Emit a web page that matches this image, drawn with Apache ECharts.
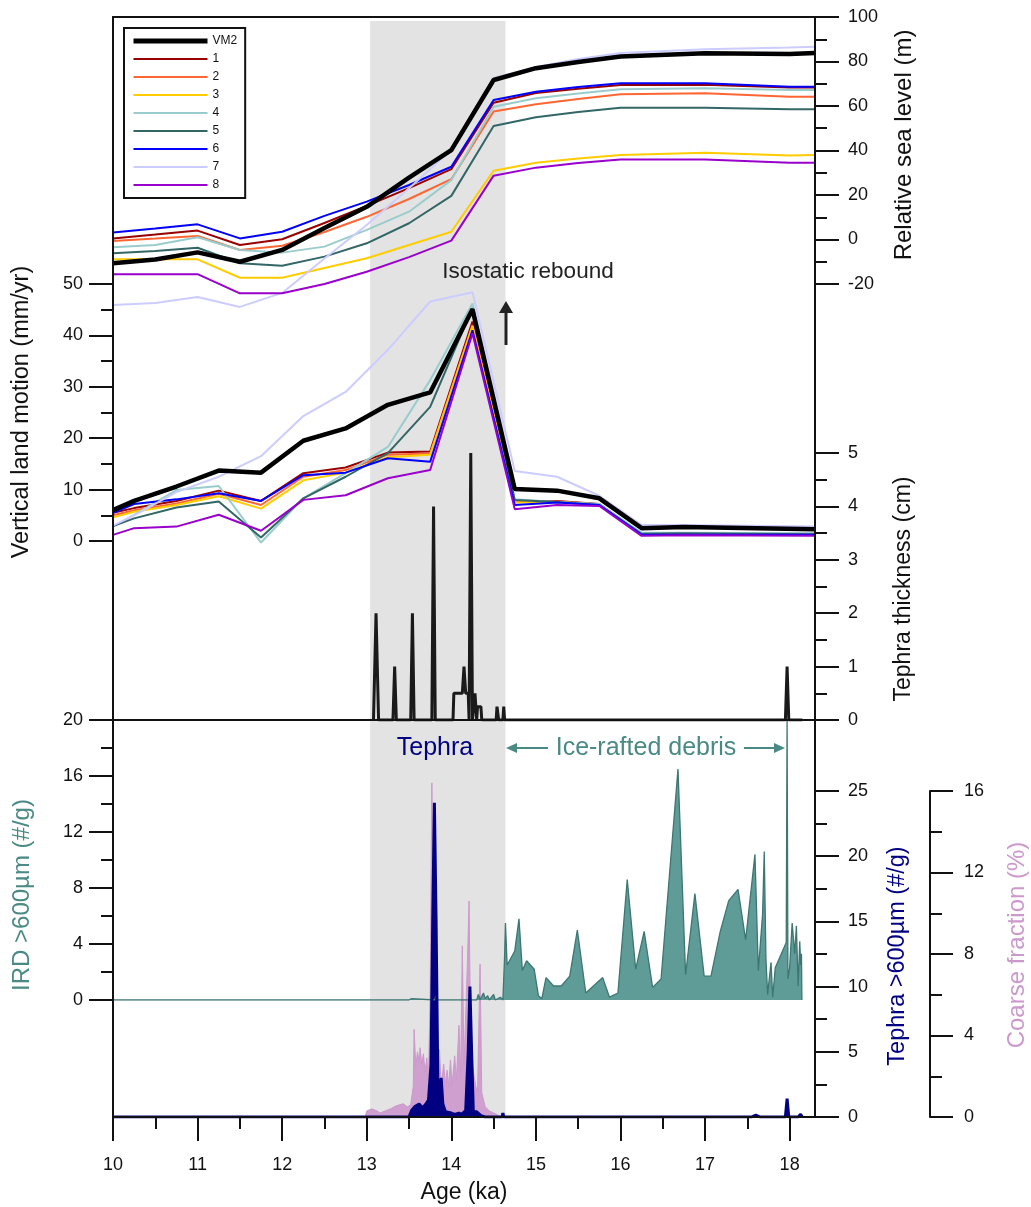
<!DOCTYPE html>
<html><head><meta charset="utf-8">
<script src="https://cdn.jsdelivr.net/npm/echarts@6/dist/echarts.min.js"></script>
<style>html,body{margin:0;padding:0;background:#fff}#c{width:1031px;height:1207px}</style>
</head><body><div id="c"></div>
<script>
// ---------------- DATA ----------------
const MODEL_NAMES = ['VM2','1','2','3','4','5','6','7','8'];

// Relative sea level (m)
const SL_AGES = [10, 10.5, 11, 11.5, 12, 12.5, 13, 13.5, 14, 14.5, 15, 15.5, 16, 17, 18, 18.3];
const SL_VM2 = [-10.7, -9.0, -5.8, -10.0, -4.7, 5.2, 14.7, 27.8, 40.2, 71.7, 77.0, 79.8, 82.2, 83.7, 83.4, 83.8];
const SL_1 = [0.5, 2.2, 4.0, -2.5, 0.1, 7.4, 15.1, 23.1, 31.6, 61.5, 65.8, 67.8, 69.4, 69.6, 68.3, 68.3];
const SL_2 = [-0.7, 0.4, 1.6, -4.7, -2.8, 3.4, 10.2, 18.2, 27.1, 57.5, 60.8, 63.1, 65.3, 65.7, 64.2, 64.2];
const SL_3 = [-8.9, -8.9, -8.9, -17.2, -17.2, -12.8, -8.4, -2.5, 3.5, 30.9, 34.5, 36.4, 38.0, 39.0, 37.7, 38.0];
const SL_4 = [-3.5, -2.5, 1.0, -4.7, -5.9, -3.2, 4.3, 12.5, 26.7, 59.7, 63.5, 65.6, 67.5, 68.0, 67.2, 67.2];
const SL_5 = [-6.2, -5.2, -3.7, -10.7, -11.8, -7.7, -1.7, 7.3, 19.6, 51.0, 54.9, 57.3, 59.2, 59.2, 58.5, 58.5];
const SL_6 = [3.1, 4.9, 6.8, 0.5, 3.5, 10.6, 17.0, 24.5, 32.7, 62.7, 66.4, 68.5, 70.2, 70.2, 68.7, 68.7];
const SL_7 = [-29.4, -28.5, -25.8, -30.3, -24.0, -8.5, 6.5, 23.0, 40.2, 72.6, 77.5, 81.1, 83.8, 85.5, 86.3, 86.6];
const SL_8 = [-15.6, -15.6, -15.6, -24.2, -24.2, -20.0, -14.5, -7.9, -0.5, 28.7, 32.3, 34.4, 36.0, 36.0, 34.5, 34.5];

// Vertical land motion (mm/yr)
const VLM_AGES = [10, 10.25, 10.75, 11.25, 11.75, 12.25, 12.75, 13.25, 13.75, 14.25, 14.75, 15.25, 15.75, 16.25, 16.75, 18.3];
const VLM_VM2 = [6.0, 7.8, 10.6, 13.7, 13.3, 19.5, 21.9, 26.5, 28.9, 45.1, 10.1, 9.8, 8.3, 2.5, 2.7, 2.3];
const VLM_1 = [5.5, 6.4, 7.8, 9.8, 7.8, 13.2, 14.3, 17.2, 17.4, 42.7, 7.7, 7.8, 7.2, 1.4, 1.4, 1.4];
const VLM_2 = [5.0, 6.0, 7.3, 9.2, 7.0, 12.5, 13.8, 16.8, 17.0, 42.0, 7.6, 7.7, 7.1, 1.3, 1.3, 1.3];
const VLM_3 = [4.6, 5.7, 7.0, 8.7, 6.3, 11.8, 13.3, 16.3, 16.8, 41.8, 7.5, 7.6, 7.0, 1.3, 1.3, 1.3];
const VLM_4 = [2.8, 5.1, 9.9, 10.7, -0.3, 8.3, 13.2, 18.3, 31.3, 46.2, 8.1, 7.6, 7.2, 1.6, 1.6, 1.5];
const VLM_5 = [2.9, 4.4, 6.5, 7.7, 0.7, 8.3, 12.5, 17.1, 26.1, 45.3, 8.0, 7.6, 7.0, 1.4, 1.5, 1.3];
const VLM_6 = [5.5, 7.2, 8.1, 9.3, 7.8, 12.8, 13.3, 16.1, 15.4, 41.0, 7.0, 7.5, 7.0, 1.2, 1.2, 1.2];
const VLM_7 = [3.0, 5.0, 9.5, 12.5, 16.5, 24.3, 29.0, 37.2, 46.6, 48.4, 13.6, 12.5, 8.8, 3.1, 3.1, 2.8];
const VLM_8 = [1.2, 2.5, 2.8, 5.1, 2.0, 8.0, 8.9, 12.2, 13.8, 40.4, 6.2, 7.0, 6.8, 1.0, 1.1, 1.0];

// Tephra thickness (cm): [age, cm]
const TEPHRA_CM = [[13.08,0],[13.11,2.0],[13.14,0],[13.31,0],[13.33,1.0],[13.35,0],[13.52,0],[13.54,2.0],[13.56,0],
  [13.77,0],[13.79,4.0],[13.81,0],[14.02,0],[14.03,0.5],[14.13,0.5],[14.15,1.0],[14.17,0.5],[14.20,0.5],[14.21,0],
  [14.23,5.0],[14.25,0],[14.27,0],[14.28,0.5],[14.30,0],[14.31,0.25],[14.35,0.25],[14.36,0],[14.53,0],[14.54,0.25],
  [14.56,0],[14.61,0],[14.62,0.25],[14.63,0],[17.95,0],[17.97,1.0],[17.99,0],[18.15,0]];

// IRD >600 µm (#/g): [age, value]
const IRD = [[10,0],[13.50,0],[13.53,0.1],[13.55,0],[13.80,0],[13.82,0.3],[13.84,0],[14.30,0],[14.32,0.4],[14.34,0],
  [14.38,0.5],[14.40,0.1],[14.43,0.3],[14.45,0],[14.50,0.4],[14.52,0],[14.58,0.2],[14.61,0],[14.63,3.1],[14.64,5.5],
  [14.66,2.5],[14.75,3.5],[14.80,5.8],[14.84,2.1],[14.89,2.8],[14.98,2.2],[15.03,0.3],[15.07,0.1],[15.12,1.6],
  [15.21,1.0],[15.30,1.0],[15.40,1.7],[15.49,5.0],[15.59,0.5],[15.79,1.6],[15.87,0.2],[15.97,0.5],[16.08,8.6],
  [16.18,2.2],[16.28,4.9],[16.38,0.9],[16.48,1.5],[16.68,16.5],[16.77,1.8],[16.88,7.6],[16.99,1.7],[17.07,1.7],
  [17.18,4.9],[17.28,7.1],[17.39,7.9],[17.48,4.3],[17.59,10.4],[17.63,2.1],[17.68,6.1],[17.70,10.6],[17.72,2.9],
  [17.74,0.4],[17.78,2.7],[17.80,0.2],[17.83,2.3],[17.96,4.1],[17.97,20],[17.98,1.5],[18.00,2.3],[18.03,5.5],
  [18.06,3.3],[18.08,5.3],[18.10,1.0],[18.12,4.2],[18.13,2.5],[18.14,3.3],[18.145,0]];

// Tephra >600 µm (#/g): [age, value]
const TEPHRA600 = [[10,0],[13.50,0],[13.53,0.5],[13.57,0.8],[13.62,1.0],[13.66,0.7],[13.70,1.0],[13.73,1.3],[13.76,4],
  [13.78,15],[13.80,24.1],[13.82,15],[13.84,3],[13.86,1.5],[13.88,3.0],[13.90,1.0],[13.93,0.4],[14.00,0.3],[14.04,0.2],
  [14.09,0.3],[14.12,0.2],[14.17,0.5],[14.20,5],[14.22,10.0],[14.24,5],[14.26,0.4],[14.30,0.4],[14.35,0.1],[14.40,0],
  [14.60,0],[14.61,0.3],[14.62,0],[17.55,0],[17.60,0.15],[17.65,0],[17.95,0],[17.97,1.4],[17.99,0],[18.10,0],
  [18.13,0.2],[18.15,0]];

// Coarse fraction (%): [age, value]
const COARSE = [[12.98,0],[13.0,0.3],[13.06,0.4],[13.12,0.3],[13.16,0.2],[13.22,0.3],[13.28,0.4],[13.35,0.55],[13.43,0.65],
  [13.48,0.5],[13.52,0.6],[13.55,1.5],[13.56,4.3],[13.58,2.5],[13.60,3.2],[13.62,2.7],[13.63,3.4],[13.65,2.6],[13.67,3.1],
  [13.69,2.2],[13.71,2.9],[13.73,1.8],[13.75,6],[13.77,16.4],[13.79,10],[13.81,3.5],[13.84,2.5],[13.86,3.3],[13.88,1.5],
  [13.91,2.6],[13.93,1.6],[13.95,2.3],[13.97,1.5],[13.99,2.8],[14.01,1.6],[14.04,3.0],[14.06,1.8],[14.09,4.5],[14.11,2.0],
  [14.13,8.4],[14.15,2.5],[14.17,5],[14.19,7.5],[14.21,10.6],[14.23,3],[14.25,2.5],[14.27,2],[14.29,1.5],[14.31,1.2],
  [14.34,7.5],[14.36,1.2],[14.40,0.5],[14.45,0.3],[14.50,0.2],[14.55,0.1],[14.58,0]];

// Shaded interval (ka)
const BAND = [13.04, 14.64];

// Tick values
const X_TICKS = [10, 11, 12, 13, 14, 15, 16, 17, 18];
const X_MINOR = [10.5, 11.5, 12.5, 13.5, 14.5, 15.5, 16.5, 17.5];
const SL_TICKS = [-20, 0, 20, 40, 60, 80, 100];
const SL_MINOR = [-10, 10, 30, 50, 70, 90];
const VLM_TICKS = [0, 10, 20, 30, 40, 50];
const VLM_MINOR = [5, 15, 25, 35, 45];
const TCM_TICKS = [0, 1, 2, 3, 4, 5];
const TCM_MINOR = [0.5, 1.5, 2.5, 3.5, 4.5];
const IRD_TICKS = [0, 4, 8, 12, 16, 20];
const IRD_MINOR = [2, 6, 10, 14, 18];
const T600_TICKS = [0, 5, 10, 15, 20, 25];
const T600_MINOR = [2.5, 7.5, 12.5, 17.5, 22.5];
const CF_TICKS = [0, 4, 8, 12, 16];
const CF_MINOR = [2, 6, 10, 14];

// ---------------- STYLE ----------------
const FONT = 'Liberation Sans, Arial, sans-serif';
const COLORS = ['#000000','#990000','#ff6633','#ffcc00','#99cccc','#336666','#0000ff','#ccccff','#9900cc'];
const SL_SETS = [SL_VM2, SL_1, SL_2, SL_3, SL_4, SL_5, SL_6, SL_7, SL_8];
const VLM_SETS = [VLM_VM2, VLM_1, VLM_2, VLM_3, VLM_4, VLM_5, VLM_6, VLM_7, VLM_8];
const zip = (xs, ys) => xs.map((x, i) => [x, ys[i]]);

const XMIN = 10, XMAX = 18.3;
const TICK_FS = 18;
const grid = (top, height) => ({left: 113, right: 216, top: top, height: height});
const grids = [grid(17, 1100), grid(17, 311.5), grid(284, 282.7), grid(453, 267), grid(720, 280), grid(791, 326)];

const AX = {color: '#111', width: 2};
function hiddenX(g) {
  return {gridIndex: g, type: 'value', min: XMIN, max: XMAX, show: false};
}
function tickAxis(g, pos, min, max, ticks, len, labels, margin, offset) {
  return {
    gridIndex: g, type: 'value', position: pos, min: min, max: max, offset: offset || 0,
    axisLine: {show: false}, splitLine: {show: false},
    axisTick: {show: true, customValues: ticks, length: len, lineStyle: AX},
    axisLabel: labels ? {show: true, customValues: ticks, margin: margin, fontSize: TICK_FS, color: '#111', fontFamily: FONT} : {show: false},
    z: 5
  };
}

const xAxes = [
  {gridIndex: 0, type: 'value', min: XMIN, max: XMAX, position: 'top', axisLine: {show: true, lineStyle: AX},
   axisTick: {show: false}, axisLabel: {show: false}, splitLine: {show: false}, z: 5},
  hiddenX(1), hiddenX(2),
  {gridIndex: 3, type: 'value', min: XMIN, max: XMAX, position: 'bottom', axisLine: {show: true, onZero: false, lineStyle: AX},
   axisTick: {show: false}, axisLabel: {show: false}, splitLine: {show: false}, z: 5},
  hiddenX(4),
  {gridIndex: 5, type: 'value', min: XMIN, max: XMAX, position: 'bottom',
   axisLine: {show: true, onZero: false, lineStyle: AX}, splitLine: {show: false},
   axisTick: {show: true, customValues: X_TICKS, length: 24, lineStyle: AX},
   axisLabel: {show: true, customValues: X_TICKS, margin: 39, fontSize: TICK_FS, color: '#111', fontFamily: FONT},
   name: 'Age (ka)', nameLocation: 'middle', nameGap: 64,
   nameTextStyle: {fontSize: 23, color: '#111', fontFamily: FONT}, z: 5},
  {gridIndex: 5, type: 'value', min: XMIN, max: XMAX, position: 'bottom',
   axisLine: {show: false}, splitLine: {show: false},
   axisTick: {show: true, customValues: X_MINOR, length: 12, lineStyle: AX},
   axisLabel: {show: false}, z: 5}
];

const yAxes = [
  {gridIndex: 0, type: 'value', min: 0, max: 1100, inverse: true, position: 'left',
   axisLine: {show: true, lineStyle: AX}, axisTick: {show: false}, axisLabel: {show: false}, splitLine: {show: false}, z: 5},
  {gridIndex: 0, type: 'value', min: 0, max: 1100, inverse: true, position: 'right',
   axisLine: {show: true, lineStyle: AX}, axisTick: {show: false}, axisLabel: {show: false}, splitLine: {show: false}, z: 5},
  tickAxis(1, 'right', -40, 100, SL_TICKS, 24, true, 33),
  tickAxis(1, 'right', -40, 100, SL_MINOR, 12, false),
  tickAxis(2, 'left', -5, 50, VLM_TICKS, 24, true, 30),
  tickAxis(2, 'left', -5, 50, VLM_MINOR, 12, false),
  tickAxis(3, 'right', 0, 5, TCM_TICKS, 24, true, 33),
  tickAxis(3, 'right', 0, 5, TCM_MINOR, 12, false),
  tickAxis(4, 'left', 0, 20, IRD_TICKS, 24, true, 30),
  tickAxis(4, 'left', 0, 20, IRD_MINOR, 12, false),
  tickAxis(5, 'right', 0, 25, T600_TICKS, 24, true, 33),
  tickAxis(5, 'right', 0, 25, T600_MINOR, 12, false),
  Object.assign(tickAxis(5, 'right', 0, 16, CF_TICKS, 23, true, 34, 115), {axisLine: {show: true, lineStyle: AX}}),
  tickAxis(5, 'right', 0, 16, CF_MINOR, 12, false, 0, 115)
];

const series = [];
series.push({
  type: 'scatter', xAxisIndex: 0, yAxisIndex: 0, data: [[10, -50]], symbolSize: 0, silent: true, z: 0,
  markArea: {silent: true, itemStyle: {color: '#e3e3e3'},
    data: [[{xAxis: BAND[0], yAxis: 4}, {xAxis: BAND[1], yAxis: 1100}]]}
});
const order = [1,2,3,4,5,6,7,8,0];
order.forEach(i => {
  series.push({type: 'line', name: MODEL_NAMES[i], xAxisIndex: 1, yAxisIndex: 2, data: zip(SL_AGES, SL_SETS[i]),
    symbol: 'none', lineStyle: {color: COLORS[i], width: i === 0 ? 4.5 : 2}, itemStyle: {color: COLORS[i]}, z: i === 0 ? 4 : 3});
});
order.forEach(i => {
  series.push({type: 'line', name: MODEL_NAMES[i], xAxisIndex: 2, yAxisIndex: 4, data: zip(VLM_AGES, VLM_SETS[i]),
    symbol: 'none', lineStyle: {color: COLORS[i], width: i === 0 ? 4.5 : 2}, itemStyle: {color: COLORS[i]}, z: i === 0 ? 4 : 3});
});
series.push({type: 'line', name: 'Tephra thickness', xAxisIndex: 3, yAxisIndex: 6, data: TEPHRA_CM, symbol: 'none',
  lineStyle: {color: '#1a1a1a', width: 3}, z: 3});
series.push({type: 'line', name: 'IRD', xAxisIndex: 4, yAxisIndex: 8, data: IRD, symbol: 'none',
  lineStyle: {color: '#3d7672', width: 1.3}, areaStyle: {color: '#5f9b97', opacity: 1}, z: 3});
series.push({type: 'line', name: 'Coarse fraction', xAxisIndex: 5, yAxisIndex: 12, data: COARSE, symbol: 'none', clip: false,
  lineStyle: {color: '#cc99cc', width: 1}, areaStyle: {color: '#cf9fcf', opacity: 1}, z: 2});
series.push({type: 'line', name: 'Tephra600', xAxisIndex: 5, yAxisIndex: 10, data: TEPHRA600, symbol: 'none',
  lineStyle: {color: '#000080', width: 3}, areaStyle: {color: '#000080', opacity: 1}, z: 3});

function vtext(x, y, text, color, size) {
  return {type: 'text', x: x, y: y, rotation: Math.PI / 2, z: 100,
    style: {text: text, fill: color, font: size + 'px ' + FONT, align: 'center', verticalAlign: 'middle'}};
}
function htext(x, y, text, color, size) {
  return {type: 'text', x: x, y: y, z: 100,
    style: {text: text, fill: color, font: size + 'px ' + FONT, align: 'center', verticalAlign: 'middle'}};
}
const TEAL_TXT = '#4a8a85';
const graphic = [
  vtext(904, 145, 'Relative sea level (m)', '#111', 24),
  vtext(904, 589, 'Tephra thickness (cm)', '#111', 23),
  vtext(898, 956, 'Tephra >600µm (#/g)', '#000080', 23.5),
  vtext(1017, 945, 'Coarse fraction (%)', '#cc99cc', 24),
  vtext(22, 412, 'Vertical land motion (mm/yr)', '#111', 23.5),
  vtext(22, 895, 'IRD >600µm (#/g)', TEAL_TXT, 24),
  htext(528, 272, 'Isostatic rebound', '#222', 22.5),
  {type: 'line', z: 100, shape: {x1: 506, y1: 345, x2: 506, y2: 311}, style: {stroke: '#222', lineWidth: 3}},
  {type: 'polygon', z: 100, shape: {points: [[499, 313], [513, 313], [506, 301]]}, style: {fill: '#222'}},
  htext(435, 748, 'Tephra', '#000080', 25),
  htext(646, 748, 'Ice-rafted debris', TEAL_TXT, 25),
  {type: 'line', z: 100, shape: {x1: 514, y1: 748, x2: 548, y2: 748}, style: {stroke: TEAL_TXT, lineWidth: 2}},
  {type: 'polygon', z: 100, shape: {points: [[506, 748], [517, 743], [517, 753]]}, style: {fill: TEAL_TXT}},
  {type: 'line', z: 100, shape: {x1: 744, y1: 748, x2: 777, y2: 748}, style: {stroke: TEAL_TXT, lineWidth: 2}},
  {type: 'polygon', z: 100, shape: {points: [[785, 748], [774, 743], [774, 753]]}, style: {fill: TEAL_TXT}}
];

const legendData = MODEL_NAMES.map((n, i) => ({name: n, lineStyle: {width: i === 0 ? 5 : 2, opacity: 1}, itemStyle: {opacity: 0}}));

const chart = echarts.init(document.getElementById('c'), null, {renderer: 'canvas'});
chart.setOption({
  animation: false,
  backgroundColor: '#fff',
  textStyle: {fontFamily: FONT},
  grid: grids,
  xAxis: xAxes,
  yAxis: yAxes,
  legend: {
    data: legendData, orient: 'vertical', left: 124, top: 28, padding: [7, 8, 7, 7], itemGap: 6,
    itemWidth: 74, itemHeight: 12, borderColor: '#111', borderWidth: 2, backgroundColor: '#fff',
    itemStyle: {opacity: 0},
    textStyle: {fontSize: 12, color: '#111', fontFamily: FONT}, selectedMode: false, z: 50
  },
  series: series,
  graphic: graphic
});
</script></body></html>
